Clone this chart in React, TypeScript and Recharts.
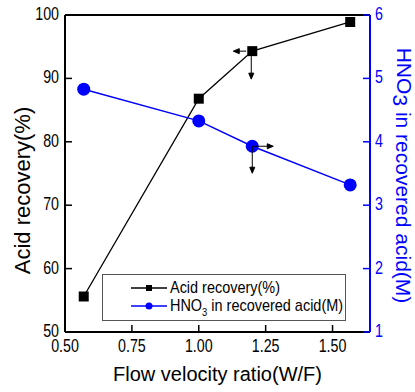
import { LineChart, Line, XAxis, YAxis, Legend, ReferenceLine, Label } from 'recharts';

const flowRatio = [0.57, 1.0, 1.2, 1.566];
const acidRecovery = [55.6, 86.8, 94.3, 98.9];
const hno3 = [4.83, 4.33, 3.93, 3.32];
const xTicks = [0.5, 0.75, 1.0, 1.25, 1.5];
const leftTicks = [50, 60, 70, 80, 90, 100];
const rightTicks = [1, 2, 3, 4, 5, 6];

const data = flowRatio.map((x, i) => ({ x, acid: acidRecovery[i], hno3: hno3[i] }));

const FONT = '"Liberation Sans", Arial, sans-serif';
const BLUE = '#0000ff';

// the reference uses a condensed face, so squeeze the tick text sideways
const NarrowTick = (props: any) => {
  const { x, y, payload, anchor, fill, dy, fmt } = props;
  return (
    <g transform={`translate(${x},${y})`}>
      <text
        transform="scale(0.75,1)"
        textAnchor={anchor}
        fill={fill}
        fontSize={19}
        fontFamily={FONT}
        dy={dy}
      >
        {fmt ? fmt(payload.value) : payload.value}
      </text>
    </g>
  );
};

const SquareDot = (props: any) => {
  const { cx, cy, index } = props;
  if (cx == null || cy == null) return null;
  return (
    <g key={`sq-${index}`}>
      <rect x={cx - 5} y={cy - 5} width={10} height={10} fill="#000" />
      {index === 2 && (
        <g stroke="#000" strokeWidth={1} fill="#000">
          <line x1={cx - 6} y1={cy} x2={cx - 14} y2={cy} />
          <path d={`M${cx - 19},${cy} L${cx - 13},${cy - 2.5} L${cx - 13},${cy + 2.5} Z`} />
          <line x1={cx - 1} y1={cy + 5} x2={cx - 1} y2={cy + 23} />
          <path d={`M${cx - 1},${cy + 28} L${cx - 3.5},${cy + 22} L${cx + 1.5},${cy + 22} Z`} />
        </g>
      )}
    </g>
  );
};

const CircleDot = (props: any) => {
  const { cx, cy, index } = props;
  if (cx == null || cy == null) return null;
  return (
    <g key={`ci-${index}`}>
      <circle cx={cx} cy={cy} r={6.5} fill={BLUE} />
      {index === 2 && (
        <g stroke="#000" strokeWidth={1} fill="#000">
          <line x1={cx} y1={cy} x2={cx + 16} y2={cy} />
          <path d={`M${cx + 21},${cy} L${cx + 15},${cy - 2.5} L${cx + 15},${cy + 2.5} Z`} />
          <line x1={cx} y1={cy} x2={cx} y2={cy + 22} />
          <path d={`M${cx},${cy + 27} L${cx - 2.5},${cy + 21} L${cx + 2.5},${cy + 21} Z`} />
        </g>
      )}
    </g>
  );
};

const legendItems = [
  { key: 'acid', color: '#000', shape: 'square' },
  { key: 'hno3', color: BLUE, shape: 'circle' },
];

const LegendBox = () => (
  <div
    style={{
      border: '1px solid #555',
      width: 242,
      height: 45,
      fontFamily: FONT,
      fontSize: 17,
      color: '#000',
      background: '#fff',
    }}
  >
    {legendItems.map((item, i) => (
      <div key={item.key} style={{ display: 'flex', alignItems: 'center', height: 18, marginTop: i === 0 ? 4 : 0 }}>
        <svg width={38} height={12} style={{ marginLeft: 27, flex: 'none' }}>
          <line x1={1} y1={6} x2={37} y2={6} stroke={item.color} strokeWidth={1.3} />
          {item.shape === 'square' ? (
            <rect x={16} y={3} width={6} height={6} fill="#000" />
          ) : (
            <circle cx={19} cy={6} r={3.5} fill={item.color} />
          )}
        </svg>
        <span
          style={{
            display: 'inline-block',
            whiteSpace: 'nowrap',
            transform: 'scaleX(0.85)',
            transformOrigin: 'left center',
            marginLeft: 2,
            lineHeight: '18px',
          }}
        >
          {item.shape === 'square' ? (
            'Acid recovery(%)'
          ) : (
            <>
              HNO<sub style={{ fontSize: 11, verticalAlign: -5, lineHeight: 0 }}>3</sub> in recovered acid(M)
            </>
          )}
        </span>
      </div>
    ))}
  </div>
);

export default function App() {
  return (
    <div style={{ position: 'absolute', left: 0, top: 0, background: '#fff' }}>
      <LineChart width={415} height={392} data={data} margin={{ top: 15, right: 0, bottom: 0, left: 0 }}>
        <XAxis
          dataKey="x"
          type="number"
          domain={[0.5, 1.64]}
          ticks={xTicks}
          height={60}
          axisLine={{ stroke: '#000', strokeWidth: 2 }}
          tickLine={{ stroke: '#000', strokeWidth: 1.5 }}
          tickSize={-7}
          tickMargin={14}
          tick={<NarrowTick anchor="middle" fill="#000" dy={13} fmt={(v: number) => v.toFixed(2)} />}
          allowDataOverflow
        >
          <Label
            value="Flow velocity ratio(W/F)"
            position="insideBottom"
            offset={11}
            style={{ fill: '#000', fontSize: 20, fontFamily: FONT }}
          />
        </XAxis>
        <YAxis
          yAxisId="left"
          domain={[50, 100]}
          ticks={leftTicks}
          width={65}
          axisLine={{ stroke: '#000', strokeWidth: 2 }}
          tickLine={{ stroke: '#000', strokeWidth: 1.5 }}
          tickSize={-7}
          tickMargin={13}
          tick={<NarrowTick anchor="end" fill="#000" dy={5} />}
        >
          <Label
            content={(props: any) => {
              const vb = props.viewBox;
              const cx = vb.x + 22;
              const cy = vb.y + vb.height / 2 + 17;
              return (
                <text
                  x={cx}
                  y={cy}
                  transform={`rotate(-90, ${cx}, ${cy})`}
                  textAnchor="middle"
                  dominantBaseline="central"
                  fill="#000"
                  fontSize={22}
                  fontFamily={FONT}
                >
                  Acid recovery(%)
                </text>
              );
            }}
          />
        </YAxis>
        <YAxis
          yAxisId="right"
          orientation="right"
          domain={[1, 6]}
          ticks={rightTicks}
          width={45}
          axisLine={{ stroke: BLUE, strokeWidth: 2 }}
          tickLine={{ stroke: BLUE, strokeWidth: 1.5 }}
          tickSize={-7}
          tickMargin={12}
          tick={<NarrowTick anchor="start" fill={BLUE} dy={5} />}
        >
          <Label
            content={(props: any) => {
              const vb = props.viewBox;
              const cx = vb.x + 34;
              const cy = vb.y + vb.height / 2 + 2;
              return (
                <text
                  x={cx}
                  y={cy}
                  transform={`rotate(90, ${cx}, ${cy})`}
                  textAnchor="middle"
                  fill={BLUE}
                  fontSize={21}
                  fontFamily={FONT}
                  dominantBaseline="central"
                >
                  HNO<tspan dy={3}>3</tspan>
                  <tspan dy={-3}> in recovered acid(M)</tspan>
                </text>
              );
            }}
          />
        </YAxis>
        <ReferenceLine yAxisId="left" y={100} stroke="#000" strokeWidth={2} />
        <Line
          yAxisId="left"
          dataKey="acid"
          stroke="#000"
          strokeWidth={1.3}
          dot={SquareDot}
          isAnimationActive={false}
          name="Acid recovery(%)"
        />
        <Line
          yAxisId="right"
          dataKey="hno3"
          stroke={BLUE}
          strokeWidth={1.5}
          dot={CircleDot}
          isAnimationActive={false}
          name="HNO3 in recovered acid(M)"
        />
        <Legend
          layout="vertical"
          align="center"
          verticalAlign="middle"
          content={() => <LegendBox />}
          wrapperStyle={{ left: 102, top: 274, width: 244, height: 47 }}
        />
      </LineChart>
    </div>
  );
}
